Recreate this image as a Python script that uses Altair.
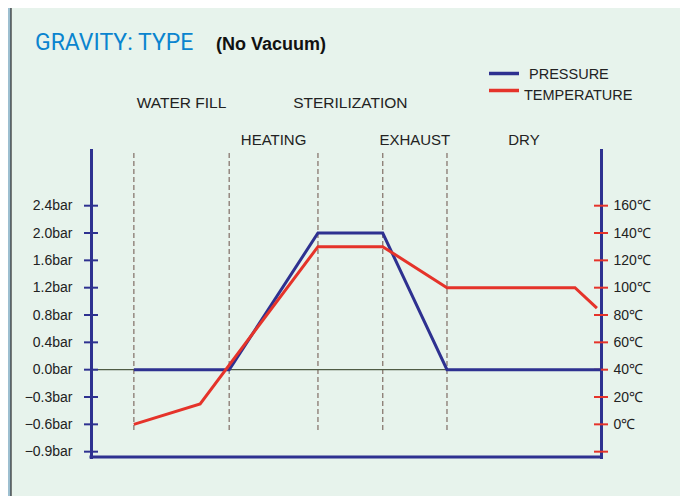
import json
import altair as alt
import pandas as pd

# ---------------- data (x in arbitrary cycle-time units, 0..100 across the axis) ----------------
pressure_t = [8.4, 27.1, 44.5, 57.2, 69.8, 100.0]
pressure_bar = [0.0, 0.0, 2.0, 2.0, 0.0, 0.0]

temp_t = [8.4, 21.4, 44.5, 57.2, 69.8, 94.9, 99.2]
temp_c = [0, 15, 130, 130, 100, 100, 85]

phase_names = ["WATER FILL", "HEATING", "STERILIZATION", "EXHAUST", "DRY"]
phase_start = [8.4, 27.1, 44.5, 57.2, 69.8]
phase_end = [27.1, 44.5, 57.2, 69.8, 100.0]
phase_row = [0, 1, 0, 1, 1]

temp_ticks = [160, 140, 120, 100, 80, 60, 40, 20, 0, -20]
temp_labels = ["160℃", "140℃", "120℃", "100℃", "80℃", "60℃", "40℃", "20℃", "0℃", ""]
pressure_labels = ["2.4bar", "2.0bar", "1.6bar", "1.2bar", "0.8bar", "0.4bar",
                   "0.0bar", "−0.3bar", "−0.6bar", "−0.9bar"]

series_names = ["PRESSURE", "TEMPERATURE"]

# ---------------- style ----------------
NAVY = "#2e3190"
RED = "#e5332a"
PANEL = "#e7f3ec"
FONT = "Liberation Sans"
W, H = 510, 307
YDOM = [-23.9, 200.75]

pressure_df = pd.DataFrame({"t": pressure_t, "p": pressure_bar})
temp_df = pd.DataFrame({"t": temp_t, "T": temp_c})
phase_df = pd.DataFrame({"name": phase_names, "start": phase_start,
                         "end": phase_end, "row": phase_row})
tick_df = pd.DataFrame({"pos": temp_ticks})
div_df = pd.DataFrame({"t": phase_start})

yscale = alt.Scale(domain=YDOM, nice=False, zero=False)
xscale = alt.Scale(domain=[0, 100], nice=False, zero=False)

lab_arr = json.dumps(pressure_labels, ensure_ascii=False)
tlab_arr = json.dumps(temp_labels, ensure_ascii=False)

left_axis = alt.Axis(values=temp_ticks, labelExpr=f"{lab_arr}[round((160 - datum.value) / 20)]",
                     ticks=False, tickSize=0, labelPadding=19, grid=False, title=None,
                     domainColor=NAVY, domainWidth=3, domainCap="square",
                     labelFont=FONT, labelFontSize=14, labelColor="#222222", orient="left")
right_axis = alt.Axis(values=temp_ticks, labelExpr=f"{tlab_arr}[round((160 - datum.value) / 20)]",
                      ticks=False, tickSize=0, labelPadding=12, grid=False, title=None,
                      domainColor=NAVY, domainWidth=3, domainCap="square",
                      labelFont=FONT, labelFontSize=14, labelColor="#222222", orient="right")

# left outer strip (frame around panel)
strip = alt.Chart(pd.DataFrame({"a": [0]})).mark_rect(color="#9dbfd0").encode(
    x=alt.value(-83), x2=alt.value(-80), y=alt.value(-142), y2=alt.value(346))
border = alt.Chart(pd.DataFrame({"a": [0]})).mark_rule(color="#2a2a2a", strokeWidth=1.2).encode(
    x=alt.value(-80), y=alt.value(-142), y2=alt.value(346))

dividers = alt.Chart(div_df).mark_rule(color="#8f8078", strokeWidth=1.4, strokeDash=[5, 3]).encode(
    x=alt.X("t:Q", scale=xscale, axis=None),
    y=alt.value(3), y2=alt.value(282))

zero_line = alt.Chart(pd.DataFrame({"p": [0.0]})).transform_calculate(
    pos="40 + datum.p * 50").mark_rule(color="#4f5b44", strokeWidth=1.3).encode(
    y=alt.Y("pos:Q", scale=yscale, axis=None), x=alt.value(0), x2=alt.value(W))

bottom_line = alt.Chart(pd.DataFrame({"a": [0]})).mark_rule(
    color=NAVY, strokeWidth=3, strokeCap="square").encode(
    y=alt.value(H), x=alt.value(0), x2=alt.value(W))

left_ticks = alt.Chart(tick_df).mark_rule(color=NAVY, strokeWidth=2).encode(
    y=alt.Y("pos:Q", scale=yscale, axis=left_axis), x=alt.value(-7), x2=alt.value(7))
right_ticks = alt.Chart(tick_df).mark_rule(color=RED, strokeWidth=2).encode(
    y=alt.Y("pos:Q", scale=yscale, axis=right_axis), x=alt.value(W - 7), x2=alt.value(W + 7))

pressure_line = alt.Chart(pressure_df).transform_calculate(
    pos="datum.p >= 0 ? 40 + datum.p * 50 : 40 + datum.p * 200 / 3").mark_line(
    color=NAVY, strokeWidth=3, strokeJoin="miter").encode(
    x=alt.X("t:Q", scale=xscale, axis=None),
    y=alt.Y("pos:Q", scale=yscale, axis=None))

temp_line = alt.Chart(temp_df).mark_line(color=RED, strokeWidth=3, strokeJoin="miter").encode(
    x=alt.X("t:Q", scale=xscale, axis=None),
    y=alt.Y("T:Q", scale=yscale, axis=None))

phase_base = alt.Chart(phase_df).transform_calculate(mid="(datum.start + datum.end) / 2")
phase_top = phase_base.transform_filter("datum.row == 0").mark_text(
    font=FONT, fontSize=15.5, color="#222222", align="center", baseline="alphabetic").encode(
    x=alt.X("mid:Q", scale=xscale, axis=None), y=alt.value(-42), text="name:N")
phase_bot = phase_base.transform_filter("datum.row == 1").mark_text(
    font=FONT, fontSize=15, color="#222222", align="center", baseline="alphabetic").encode(
    x=alt.X("mid:Q", scale=xscale, axis=None), y=alt.value(-5), text="name:N")

title1 = alt.Chart(pd.DataFrame({"s": ["GRAVITY: TYPE"]})).mark_text(
    font="Roboto", fontSize=23, fontWeight=400, color="#0a84cf", align="left",
    baseline="alphabetic").encode(x=alt.value(-56), y=alt.value(-100), text="s:N")
title2 = alt.Chart(pd.DataFrame({"s": ["(No Vacuum)"]})).mark_text(
    font=FONT, fontSize=18, fontWeight="bold", color="#111111", align="left",
    baseline="alphabetic").encode(x=alt.value(125), y=alt.value(-100), text="s:N")

leg_p = alt.Chart(pd.DataFrame({"s": [series_names[0]]}))
leg_t = alt.Chart(pd.DataFrame({"s": [series_names[1]]}))
leg_p_line = leg_p.mark_rule(color=NAVY, strokeWidth=3.5).encode(
    x=alt.value(398), x2=alt.value(428), y=alt.value(-76.5))
leg_t_line = leg_t.mark_rule(color=RED, strokeWidth=3.5).encode(
    x=alt.value(398), x2=alt.value(428), y=alt.value(-59.5))
leg_p_text = leg_p.mark_text(font=FONT, fontSize=14.5, color="#222222", align="left",
                             baseline="alphabetic").encode(
    x=alt.value(438), y=alt.value(-71), text="s:N")
leg_t_text = leg_t.mark_text(font=FONT, fontSize=14.5, color="#222222", align="left",
                             baseline="alphabetic").encode(
    x=alt.value(433), y=alt.value(-50), text="s:N")

chart = alt.layer(
    strip, border, dividers, zero_line, bottom_line, left_ticks, right_ticks,
    pressure_line, temp_line,
    phase_top, phase_bot, title1, title2, leg_p_line, leg_t_line, leg_p_text, leg_t_text
).resolve_scale(y="independent").properties(
    width=W, height=H,
    padding={"left": 83, "top": 142, "right": 79, "bottom": 39},
    autosize=alt.AutoSizeParams(type="none"),
    background=PANEL,
).configure_view(strokeWidth=0)

chart.save("out.html", embed_options={"renderer": "svg", "actions": False})
